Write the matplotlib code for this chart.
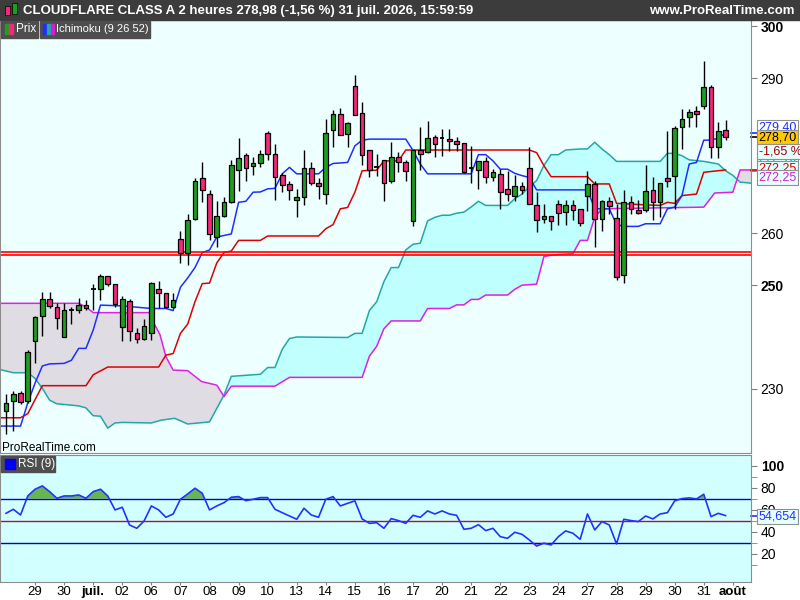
import numpy as np
import matplotlib
matplotlib.use('Agg')
import matplotlib.pyplot as plt
from matplotlib.patches import Rectangle
from matplotlib.transforms import blended_transform_factory

plt.rcParams['font.family'] = ['Liberation Sans', 'DejaVu Sans']

# --- données (barres de 2 heures) ---
opens = [225.8, 227.6, 229.2, 227.6, 239.2, 244.0, 247.4, 245.8, 239.9, 245.2,
         245.2, 246.15, 249.2, 249.2, 251.7, 250.2, 241.9, 246.9, 240.7, 239.55,
         240.7, 249.2, 248.4, 245.8, 259.0, 256.2, 262.8, 270.7, 267.6, 259.4,
         263.4, 266.0, 272.25, 275.1, 273.0, 273.6, 279.4, 275.3, 271.2, 269.55,
         266.5, 267.1, 272.6, 269.75, 267.6, 279.9, 283.0, 279.2, 288.5, 283.2,
         276.1, 272.8, 274.16, 270.2, 274.7, 273.8, 262.4, 276.1, 275.8, 278.65,
         278.4, 278.2, 277.9, 277.4, 272.6, 272.2, 274.0, 270.8, 271.5, 268.6,
         267.3, 269.2, 272.6, 265.5, 262.8, 263.3, 265.7, 264.1, 265.4, 264.75,
         267.3, 269.55, 262.8, 266.2, 263.0, 251.9, 266.0, 264.55, 264.55, 268.4,
         266.0, 270.7, 271.0, 280.45, 282.5, 283.65, 284.5, 288.3, 276.6, 279.9]
highs = [229.0, 229.6, 229.5, 237.4, 244.0, 248.6, 248.6, 246.6, 246.6, 245.8,
         247.6, 247.1, 250.3, 252.25, 251.8, 250.2, 247.9, 247.4, 241.7, 243.4,
         250.6, 250.8, 248.4, 248.4, 260.45, 263.8, 270.7, 273.7, 268.4, 266.2,
         267.0, 274.2, 278.4, 275.6, 274.7, 276.1, 279.8, 277.2, 271.6, 270.1,
         268.6, 276.1, 273.7, 270.7, 282.05, 283.8, 284.2, 281.5, 290.6, 285.3,
         276.1, 275.3, 274.2, 277.6, 275.8, 274.2, 276.1, 280.6, 281.7, 279.0,
         280.1, 280.1, 278.65, 277.4, 276.9, 274.0, 274.7, 272.4, 272.4, 272.1,
         271.2, 269.9, 276.6, 267.95, 265.7, 263.3, 266.5, 266.5, 266.5, 264.75,
         272.1, 270.1, 266.5, 267.1, 265.7, 268.3, 267.3, 266.5, 273.3, 270.95,
         269.7, 279.7, 280.8, 284.0, 284.0, 284.6, 293.3, 288.65, 281.5, 281.9]
lows = [221.2, 221.8, 227.1, 227.2, 234.9, 240.2, 245.6, 241.6, 239.9, 242.5,
        244.55, 245.2, 245.2, 247.1, 249.8, 245.8, 239.3, 239.3, 238.8, 239.5,
        239.4, 245.5, 245.5, 245.5, 254.2, 253.85, 262.5, 266.0, 258.7, 257.4,
        263.1, 265.8, 268.1, 270.1, 271.2, 272.8, 274.2, 266.5, 268.0, 266.5,
        263.2, 265.4, 269.4, 266.6, 265.6, 276.6, 279.0, 276.6, 282.9, 273.2,
        270.8, 271.0, 266.3, 269.7, 271.8, 270.2, 261.4, 272.2, 275.6, 274.8,
        275.0, 276.0, 276.0, 271.6, 269.7, 268.6, 269.7, 270.2, 264.7, 266.2,
        266.2, 267.6, 265.6, 260.3, 262.0, 260.7, 261.7, 261.7, 262.6, 261.5,
        264.4, 257.4, 260.5, 263.7, 250.95, 250.45, 263.8, 263.7, 264.1, 262.6,
        263.1, 269.0, 264.75, 276.3, 280.45, 280.45, 284.0, 274.55, 274.55, 278.1]
closes = [227.25, 229.0, 227.4, 237.05, 243.9, 247.25, 246.0, 243.6, 245.3, 245.2,
          246.15, 245.5, 249.2, 251.7, 250.2, 246.35, 247.4, 241.2, 239.55, 242.1,
          250.45, 248.4, 245.8, 247.2, 256.2, 262.6, 270.2, 268.4, 259.9, 263.3,
          266.0, 273.2, 274.55, 272.6, 273.6, 275.3, 275.3, 270.8, 269.4, 268.3,
          267.1, 272.6, 269.7, 269.2, 279.4, 283.0, 279.0, 281.3, 282.9, 275.1,
          272.2, 272.8, 269.7, 274.8, 273.7, 272.1, 276.1, 275.3, 278.4, 277.2,
          278.4, 277.8, 277.2, 271.9, 272.6, 274.0, 270.8, 271.8, 267.95, 267.6,
          269.2, 268.4, 265.6, 262.6, 263.3, 262.3, 263.9, 265.4, 264.55, 262.0,
          269.55, 262.8, 266.2, 265.2, 251.6, 266.0, 264.75, 264.0, 268.1, 266.0,
          269.7, 270.1, 280.3, 282.1, 283.5, 283.0, 288.3, 276.6, 279.8, 278.7]

rsi = [56.7, 60.4, 55.2, 72.5, 78.6, 81.6, 76.4, 70.4, 72.5, 72.5,
       73.4, 70.4, 76.4, 78.6, 72.5, 59.8, 62.2, 46.1, 43.1, 49.8,
       63.4, 59.8, 53.1, 56.1, 69.5, 74.3, 79.5, 74.9, 59.8, 63.4,
       66.4, 71.3, 71.9, 68.2, 69.5, 71.0, 71.0, 60.4, 57.3, 54.3,
       51.3, 61.3, 55.2, 53.1, 69.5, 71.9, 63.4, 65.8, 68.0, 51.6,
       47.6, 48.2, 43.1, 51.9, 50.1, 47.6, 54.9, 53.1, 58.9, 56.1,
       58.9, 56.1, 54.9, 42.2, 43.1, 46.4, 41.0, 43.1, 35.5, 34.0,
       39.5, 37.6, 32.5, 27.0, 29.5, 28.0, 35.5, 40.7, 38.6, 33.1,
       56.1, 41.6, 49.2, 46.1, 28.9, 51.3, 50.1, 49.2, 54.3, 51.6,
       56.1, 57.3, 68.0, 70.1, 70.7, 69.8, 74.0, 53.7, 56.7, 54.654]

# Ichimoku : points de cassure (n° de barre, valeur)
tenkan_x = [-0.8, 2, 3, 4, 5, 6, 8, 9, 10, 11, 12, 13, 16, 20, 22, 23, 24, 25, 26, 27,
            28, 29, 31, 32, 33, 34, 35, 36, 37, 38, 39, 40, 43, 44, 45, 47, 48, 49, 50, 55,
            56, 57, 58, 64, 65, 66, 67, 68, 69, 70, 71, 72, 73, 80, 81, 83, 84, 85, 87, 88,
            90, 91, 92, 93, 94, 95, 96, 97, 98, 99]
tenkan_y = [222.8, 222.8, 227.3, 231.1, 234.4, 234.8, 234.9, 235.5, 237.8, 237.8, 241.35, 246.15, 246.0, 245.5, 245.5, 245.1, 249.6, 251.4, 253.4, 256.3,
            256.8, 259.3, 259.9, 266.0, 266.2, 267.95, 268.0, 268.6, 268.7, 271.5, 272.75, 271.5, 271.5, 272.75, 273.5, 273.7, 276.9, 278.0, 278.2, 278.2,
            276.0, 273.4, 271.5, 271.5, 275.2, 275.2, 274.0, 272.4, 272.4, 271.6, 271.15, 270.8, 268.4, 268.4, 264.75, 264.75, 261.73, 261.35, 261.35, 261.86,
            261.86, 264.75, 265.07, 267.3, 273.4, 273.7, 278.0, 278.0, 278.4, 279.4]
kijun_x = [-0.8, 2, 3, 5, 11, 12, 14, 21, 22, 23, 24, 25, 26, 27, 28, 29, 30, 31, 32, 35,
           36, 43, 44, 45, 46, 47, 48, 49, 51, 52, 54, 55, 72, 73, 74, 75, 80, 81, 83, 84,
           88, 90, 91, 92, 93, 95, 96, 99]
kijun_y = [224.4, 224.4, 225.2, 230.6, 230.6, 232.7, 234.2, 234.2, 236.5, 236.8, 240.7, 242.5, 246.8, 250.3, 250.4, 254.3, 256.3, 256.6, 258.65, 258.65,
           259.5, 259.5, 260.9, 261.7, 264.75, 265.0, 267.95, 272.1, 272.2, 274.0, 274.0, 276.1, 276.1, 275.6, 273.1, 270.95, 270.95, 269.55, 269.55, 265.8,
           265.5, 265.4, 266.0, 265.8, 267.3, 267.6, 271.8, 272.25]
span_a_x = [-0.8, 1, 3, 4, 5, 6, 7, 10, 11, 12, 13, 14, 15, 16, 20, 21.4, 23.2, 25, 28, 29,
            30, 31, 33, 35, 36, 37, 38, 39, 40, 47, 48, 49, 50, 51, 52, 53, 54, 55, 56, 57,
            58, 59, 60, 61, 62, 63, 64, 65, 66, 69, 70, 71, 72, 73, 74, 75, 76, 77, 79, 80,
            81, 82, 83, 84, 90, 91, 92, 93, 94, 96, 98, 99, 100, 101, 102.5]
span_a_y = [233.7, 233.1, 233.1, 232.0, 230.1, 227.8, 227.1, 226.7, 226.3, 224.8, 224.7, 222.4, 223.4, 223.5, 223.4, 223.95, 224.3, 223.2, 223.6, 226.2,
            228.8, 232.4, 232.6, 232.8, 234.1, 234.1, 237.6, 239.7, 240.0, 239.9, 240.7, 240.7, 245.1, 246.8, 250.7, 253.4, 253.4, 256.8, 257.9, 258.1,
            262.4, 263.1, 263.5, 263.5, 263.9, 264.1, 265.1, 266.2, 265.4, 265.4, 266.7, 267.6, 269.0, 270.2, 273.1, 275.2, 275.2, 276.1, 276.3, 276.3,
            277.6, 276.3, 275.2, 273.9, 273.9, 275.45, 275.45, 275.0, 274.2, 273.9, 273.4, 272.1, 271.2, 269.9, 269.7]
span_b_x = [-0.8, 10, 11, 12, 19.7, 20, 21.2, 22, 23, 25, 26.9, 29, 30, 31, 37, 39, 49, 50, 51, 52,
            53, 57, 58, 61, 62, 63, 64, 65, 66, 69, 70, 71, 73, 74, 75, 78, 79, 80, 81, 82,
            96, 97.5, 100, 101, 102.5]
span_b_y = [246.5, 246.5, 245.8, 244.7, 244.7, 243.6, 240.4, 236.2, 233.6, 233.5, 231.4, 230.7, 228.5, 230.5, 230.5, 232.2, 232.2, 236.3, 238.2, 241.6,
            243.1, 243.1, 245.5, 245.5, 246.2, 246.2, 247.25, 247.25, 248.1, 248.1, 249.2, 250.0, 250.2, 255.5, 255.8, 256.1, 258.65, 258.65, 263.1, 264.75,
            265.07, 267.8, 267.95, 272.25, 272.25]

support_levels = [256.4, 255.9]

day_labels = ['29', '30', 'juil.', '02', '06', '07', '08', '09', '10', '13', '14', '15', '16',
              '17', '20', '21', '22', '23', '24', '27', '28', '29', '30', '31', 'août']
bars_per_day = 4

title = 'CLOUDFLARE CLASS A 2 heures 278,98 (-1,56 %) 31 juil. 2026, 15:59:59'
pct_label = '-1,65 %'

W, H = 800, 600
fig = plt.figure(figsize=(8, 6), dpi=100)
fig.patch.set_facecolor('white')


def fx(px):
    return px / W


def fy(py):
    return 1 - py / H


def fr(v, d=2):
    return f'{v:.{d}f}'.replace('.', ',')


ax = fig.add_axes([0, fy(453), fx(751), (453 - 20) / H])
ax2 = fig.add_axes([0, fy(582), fx(751), (582 - 455) / H])

xlim = (-0.825, 102.5)
n = len(closes)
bars = np.arange(n)

# --- panneau prix ---
ax.set_facecolor('#EEFFFF')
ax.set_xlim(*xlim)
ax.set_ylim(217.6, 301.2)

xa = np.array(span_a_x)
xb = np.array(span_b_x)
xs = np.union1d(xa, xb)
a = np.interp(xs, xa, span_a_y)
b = np.interp(xs, xb, span_b_y)
ax.fill_between(xs, a, b, where=a >= b, interpolate=True, color='#BFFFFD', lw=0, zorder=1)
ax.fill_between(xs, a, b, where=b > a, interpolate=True, color='#E0DCE4', lw=0, zorder=1)

ax.plot(span_a_x, span_a_y, color='#22A6A6', lw=1.1, zorder=2)
ax.plot(span_b_x, span_b_y, color='#E020E0', lw=1.1, zorder=2)
ax.plot(kijun_x, kijun_y, color='#DD0000', lw=1.1, zorder=2)
ax.plot(tenkan_x, tenkan_y, color='#1E2EFF', lw=1.1, zorder=2)

for lvl in support_levels:
    ax.axhline(lvl, color='#FF0000', lw=1.2, zorder=2)

for i in range(n):
    o, h, l, c = opens[i], highs[i], lows[i], closes[i]
    ax.vlines(i, l, h, color='black', lw=1, zorder=3)
    if c == o:
        ax.hlines(c, i - 0.32, i + 0.32, color='black', lw=1.3, zorder=4)
        continue
    col = '#1E9E1E' if c > o else '#F5287A'
    ax.add_patch(Rectangle((i - 0.32, min(o, c)), 0.64, abs(c - o), facecolor=col,
                           edgecolor='black', lw=0.9, zorder=4))

ax.set_xticks([])
ax.yaxis.tick_right()
ax.set_yticks([230, 250, 260, 290, 300])
ax.set_yticklabels(['230', '250', '260', '290', '300'])
for t in ax.get_yticklabels():
    if t.get_text() in ('250', '300'):
        t.set_fontweight('bold')
ax.tick_params(axis='y', direction='out', length=4, labelsize=10, pad=3, color='#808080')
for s in ax.spines.values():
    s.set_color('#8C8C8C')

# étiquettes de valeurs à droite
blend = blended_transform_factory(ax.transAxes, ax.transData)
right_labels = [
    (280.5, fr(tenkan_y[-1]), '#1E2EFF', 'white', tenkan_y[-1]),
    (278.6, fr(closes[-1]), 'black', '#FFC800', closes[-1]),
    (274.5, fr(span_a_y[-4]), '#22A6A6', '#E6FFFF', span_a_y[-4]),
    (275.8, pct_label, '#AA0000', '#E6FFFF', None),
    (272.6, fr(kijun_y[-1]), '#DD0000', '#E6FFFF', kijun_y[-1]),
    (270.75, fr(span_b_y[-1]), '#D020D0', '#E6FFFF', None),
]
for ypos, txt, col, bg, lvl in right_labels:
    if lvl is not None:
        ax.plot([1.0, 1.008], [lvl, lvl], color=col, lw=1.2, transform=blend, clip_on=False)
    ax.text(1.01, ypos, txt, transform=blend, color=col, fontsize=9, va='center', ha='left',
            bbox=dict(boxstyle='square,pad=0.12', fc=bg, ec='#909090', lw=0.8), clip_on=False, zorder=6)

# --- panneau RSI ---
ax2.set_facecolor('#D2FFFF')
ax2.set_xlim(*xlim)
ax2.set_ylim(-5.7, 109.7)
r = np.array(rsi)
ax2.axhline(70, color='#0000CC', lw=1)
ax2.axhline(50, color='#B0103A', lw=1)
ax2.axhline(30, color='#0000CC', lw=1)
ax2.fill_between(bars, r, 70, where=r > 70, interpolate=True, color='#66B84E', lw=0)
ax2.fill_between(bars, r, 30, where=r < 30, interpolate=True, color='#E8A4C0', lw=0)
ax2.plot(bars, r, color='#2233FF', lw=1.2)

ax2.yaxis.tick_right()
ax2.set_yticks([20, 40, 60, 80, 100])
ax2.set_yticks([10, 30, 50, 70, 90], minor=True)
ax2.set_yticklabels(['20', '40', '60', '80', '100'])
ax2.get_yticklabels()[-1].set_fontweight('bold')
ax2.tick_params(axis='y', which='both', direction='out', length=4, labelsize=10, pad=3, color='#808080')

day_ticks = [bars_per_day * (k + 1) for k in range(len(day_labels))]
ax2.set_xticks(day_ticks)
ax2.set_xticklabels(day_labels)
for t in ax2.get_xticklabels():
    if not t.get_text().isdigit():
        t.set_fontweight('bold')
ax2.tick_params(axis='x', direction='out', length=2, labelsize=9.5, pad=1, color='#808080')
for s in ax2.spines.values():
    s.set_color('#8C8C8C')

blend2 = blended_transform_factory(ax2.transAxes, ax2.transData)
ax2.plot([1.0, 1.008], [rsi[-1], rsi[-1]], color='#2233FF', lw=1.2, transform=blend2, clip_on=False)
ax2.text(1.01, 53.4, fr(rsi[-1], 3), transform=blend2, color='#2233FF',
         fontsize=9, va='center', ha='left',
         bbox=dict(boxstyle='square,pad=0.12', fc='#E6FFFF', ec='#909090', lw=0.8), clip_on=False)

# --- barre de titre et légendes ---
fig.add_artist(Rectangle((0, fy(20)), 1, 20 / H, transform=fig.transFigure, color='#3C3C3C', zorder=5))
fig.add_artist(Rectangle((fx(5), fy(15)), fx(5), 9 / H, transform=fig.transFigure, fc='#F5287A', ec='black', lw=0.5, zorder=6))
fig.add_artist(Rectangle((fx(12), fy(14)), fx(5), 11 / H, transform=fig.transFigure, fc='#1E9E1E', ec='black', lw=0.5, zorder=6))
fig.text(fx(23), fy(11), title, color='white', fontsize=9.5, fontweight='bold', va='center', zorder=7)
fig.text(fx(795), fy(11), 'www.ProRealTime.com', color='white', fontsize=9.5, fontweight='bold',
         va='center', ha='right', zorder=7)

fig.add_artist(Rectangle((fx(1), fy(38)), fx(37), 17 / H, transform=fig.transFigure, color='#4E4E4E', zorder=5))
fig.add_artist(Rectangle((fx(5), fy(34)), fx(4), 10 / H, transform=fig.transFigure, color='#1E9E1E', zorder=6))
fig.add_artist(Rectangle((fx(9), fy(34)), fx(4), 10 / H, transform=fig.transFigure, color='#F5287A', zorder=6))
fig.text(fx(16), fy(29), 'Prix', color='white', fontsize=8.5, va='center', zorder=7)

fig.add_artist(Rectangle((fx(40), fy(38)), fx(110), 17 / H, transform=fig.transFigure, color='#4E4E4E', zorder=5))
for k, col in enumerate(['#1E2EFF', '#22A6A6', '#D020D0']):
    fig.add_artist(Rectangle((fx(43 + 4 * k), fy(34)), fx(3), 10 / H, transform=fig.transFigure, color=col, zorder=6))
fig.text(fx(56), fy(29), 'Ichimoku (9 26 52)', color='white', fontsize=8, va='center', zorder=7)

fig.text(fx(2), fy(448), 'ProRealTime.com', color='black', fontsize=8.5, va='center')

fig.add_artist(Rectangle((fx(1), fy(472)), fx(54), 16 / H, transform=fig.transFigure, color='#4E4E4E', zorder=5))
fig.add_artist(Rectangle((fx(5), fy(469)), fx(10), 10 / H, transform=fig.transFigure, color='#0000FF', zorder=6))
fig.text(fx(18), fy(464), 'RSI (9)', color='white', fontsize=8.5, va='center', zorder=7)

fig.savefig('out.png', dpi=100)
